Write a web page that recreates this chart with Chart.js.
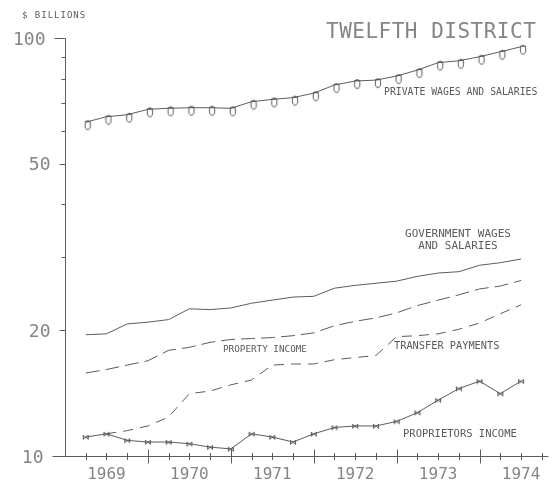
<!DOCTYPE html>
<html><head><meta charset="utf-8">
<script src="https://cdn.jsdelivr.net/npm/chart.js@4.4.1/dist/chart.umd.min.js"></script>
<style>html,body{margin:0;padding:0;background:#fff}canvas{display:block}</style>
</head><body>
<canvas id="c" width="560" height="480"></canvas>
<script>
// ---- data (quarterly, 1969 Q1 .. 1974 Q2), $ billions, log scale ----
const quarters = ['1969Q1','1969Q2','1969Q3','1969Q4','1970Q1','1970Q2','1970Q3','1970Q4',
  '1971Q1','1971Q2','1971Q3','1971Q4','1972Q1','1972Q2','1972Q3','1972Q4',
  '1973Q1','1973Q2','1973Q3','1973Q4','1974Q1','1974Q2'];
const yearLabels = ['1969','1970','1971','1972','1973','1974'];
const yTicksLabeled = [100, 50, 20, 10];
const yTicksMinor = [90, 80, 70, 60, 40, 30];
const privateWages = [62.9, 64.8, 65.5, 67.5, 67.9, 68.1, 68.1, 67.9, 70.4, 71.3, 72.0, 73.8, 77.2, 78.9, 79.3, 81.1, 83.8, 87.3, 88.2, 90.2, 92.7, 95.3];
const governmentWages = [19.5, 19.6, 20.7, 20.9, 21.2, 22.5, 22.4, 22.6, 23.2, 23.6, 24.0, 24.1, 25.2, 25.6, 25.9, 26.2, 26.9, 27.4, 27.6, 28.6, 29.0, 29.6];
const propertyIncome = [15.8, 16.1, 16.5, 16.9, 17.9, 18.2, 18.7, 19.0, 19.1, 19.2, 19.4, 19.7, 20.5, 21.0, 21.4, 22.0, 22.9, 23.6, 24.3, 25.1, 25.5, 26.3];
const transferPayments = [null, 11.3, 11.5, 11.8, 12.4, 14.1, 14.3, 14.8, 15.2, 16.5, 16.6, 16.6, 17.0, 17.2, 17.4, 19.3, 19.4, 19.6, 20.1, 20.8, 21.9, 23.0];
const proprietorsIncome = [11.1, 11.3, 10.9, 10.8, 10.8, 10.7, 10.5, 10.4, 11.3, 11.1, 10.8, 11.3, 11.7, 11.8, 11.8, 12.1, 12.7, 13.6, 14.5, 15.1, 14.1, 15.1];

const INK = '#5c5c5c';
const TEXT = '#5a5a5a';
const TEXT_BIG = '#858585';
const MONO = '"DejaVu Sans Mono", "Liberation Mono", monospace';

function pts(arr) { return arr.map((v, i) => ({ x: i, y: v })); }

function ovalMarker() {
  const c = document.createElement('canvas'); c.width = 16; c.height = 24;
  const g = c.getContext('2d');
  g.strokeStyle = INK; g.lineWidth = 1;
  g.beginPath(); g.ellipse(10, 15, 2.7, 4.4, 0, 0, Math.PI * 2); g.stroke();
  g.beginPath(); g.moveTo(7, 11.5); g.lineTo(13, 11.5); g.stroke();
  return c;
}
function bowMarker() {
  const c = document.createElement('canvas'); c.width = 14; c.height = 10;
  const g = c.getContext('2d');
  g.strokeStyle = INK; g.lineWidth = 1;
  g.beginPath();
  g.moveTo(4.5, 3); g.lineTo(4.5, 7.5);
  g.moveTo(9.5, 3); g.lineTo(9.5, 7.5);
  g.moveTo(4.5, 3.5); g.lineTo(9.5, 7);
  g.moveTo(4.5, 7); g.lineTo(9.5, 3.5);
  g.stroke();
  return c;
}

const axesPlugin = {
  id: 'plotterAxes',
  beforeDatasetsDraw(chart) {
    const { ctx, scales: { x, y } } = chart;
    const r = v => Math.round(v) + 0.5;
    ctx.save();
    ctx.strokeStyle = INK; ctx.lineWidth = 1;
    const ax = r(x.getPixelForValue(-1));
    const yTop = y.getPixelForValue(100), yBot = r(y.getPixelForValue(10));
    ctx.beginPath();
    ctx.moveTo(ax, Math.round(yTop) + 0.5); ctx.lineTo(ax, yBot);
    ctx.moveTo(ax - 13, yBot); ctx.lineTo(r(x.getPixelForValue(22.3)), yBot);
    yTicksLabeled.forEach(v => {
      const py = r(y.getPixelForValue(v));
      const len = v === 100 ? 11 : 6;
      if (v !== 10) { ctx.moveTo(ax - len, py); ctx.lineTo(ax, py); }
    });
    yTicksMinor.forEach(v => {
      const py = r(y.getPixelForValue(v));
      ctx.moveTo(ax - 4, py); ctx.lineTo(ax, py);
    });
    for (let i = 0; i <= 22; i++) {
      const px = r(x.getPixelForValue(i));
      const major = (i + 1) % 4 === 0;
      const d = major ? 7 : 3.5;
      ctx.moveTo(px, yBot - d); ctx.lineTo(px, yBot + d);
    }
    ctx.stroke();

    ctx.fillStyle = TEXT_BIG;
    ctx.textBaseline = 'alphabetic';
    ctx.font = '18px ' + MONO;
    ctx.textAlign = 'right';
    yTicksLabeled.forEach(v => {
      const py = y.getPixelForValue(v);
      const right = v === 100 ? ax - 20 : (v === 10 ? ax - 22 : ax - 15);
      ctx.fillText(String(v), right, py + 6.5);
    });
    ctx.font = '16px ' + MONO;
    ctx.textAlign = 'center';
    yearLabels.forEach((lab, j) => {
      ctx.fillText(lab, x.getPixelForValue(4 * j + 1), yBot + 22);
    });
    ctx.restore();
  },
  afterDraw(chart) {
    const { ctx } = chart;
    ctx.save();
    ctx.textBaseline = 'alphabetic';
    const txt = (s, size, xx, yy, align, sp, col) => {
      ctx.fillStyle = col || TEXT;
      ctx.font = size + 'px ' + MONO;
      ctx.textAlign = align || 'left';
      if ('letterSpacing' in ctx) ctx.letterSpacing = (sp || 0) + 'px';
      ctx.fillText(s, xx, yy);
    };
    txt('$ BILLIONS', 9, 22, 18, 'left', 1);
    txt('TWELFTH DISTRICT', 21, 326, 38, 'left', 0.5, TEXT_BIG);
    txt('PRIVATE WAGES AND SALARIES', 9.8, 384, 95, 'left', 0);
    txt('GOVERNMENT WAGES', 11, 458, 236.5, 'center', 0);
    txt('AND SALARIES', 11, 458, 248.5, 'center', 0);
    txt('PROPERTY INCOME', 9.3, 223, 352, 'left', 0);
    txt('TRANSFER PAYMENTS', 10.3, 394, 349, 'left', 0);
    txt('PROPRIETORS INCOME', 10.5, 403, 437, 'left', 0);
    ctx.restore();
  }
};

const base = { borderColor: INK, borderWidth: 1, tension: 0, fill: false, spanGaps: false };

new Chart(document.getElementById('c'), {
  type: 'line',
  data: {
    labels: quarters,
    datasets: [
      Object.assign({ label: 'Private wages and salaries', data: pts(privateWages), pointStyle: ovalMarker(), pointRadius: 5, pointHoverRadius: 5 }, base),
      Object.assign({ label: 'Government wages and salaries', data: pts(governmentWages), pointRadius: 0 }, base),
      Object.assign({ label: 'Property income', data: pts(propertyIncome), pointRadius: 0, borderDash: [14, 6] }, base),
      Object.assign({ label: 'Transfer payments', data: pts(transferPayments), pointRadius: 0, borderDash: [10, 7] }, base),
      Object.assign({ label: 'Proprietors income', data: pts(proprietorsIncome), pointStyle: bowMarker(), pointRadius: 4, pointHoverRadius: 4 }, base)
    ]
  },
  options: {
    responsive: false,
    animation: false,
    devicePixelRatio: 1,
    events: [],
    layout: { padding: { left: 65, right: 12, top: 38, bottom: 24 } },
    plugins: { legend: { display: false }, tooltip: { enabled: false } },
    scales: {
      x: { type: 'linear', min: -1, max: 22.3, display: false },
      y: { type: 'logarithmic', min: 10, max: 100, display: false }
    }
  },
  plugins: [axesPlugin]
});
</script>
</body></html>
